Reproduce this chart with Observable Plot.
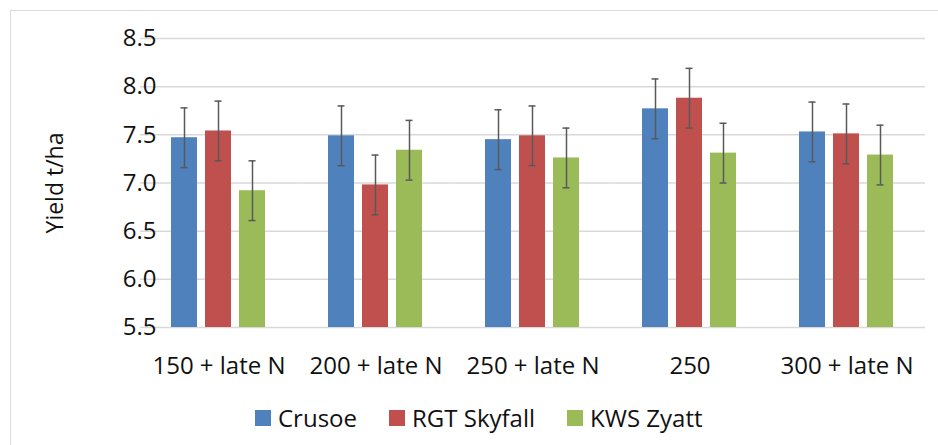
<!DOCTYPE html>
<html>
<head>
<meta charset="utf-8">
<script src="https://cdn.jsdelivr.net/npm/d3@7"></script>
<script src="https://cdn.jsdelivr.net/npm/@observablehq/plot@0.6"></script>
<style>
  html, body { margin: 0; padding: 0; background: #fff; }
  #wrap { position: relative; width: 938px; height: 445px; overflow: hidden; font-family: "Open Sans", sans-serif; }
  #border { position: absolute; left: 10px; top: 10px; width: 960px; height: 460px; border: 1.5px solid #d9d9d9; box-sizing: border-box; }
  #chart { position: absolute; left: 0; top: 0; }
  #legend { position: absolute; left: 255px; top: 401px; display: flex; align-items: center; font-size: 24px; color: #111; white-space: nowrap; }
  .item { display: flex; align-items: center; margin-right: 32px; }
  .sw { width: 16px; height: 16px; margin-right: 7px; }
</style>
</head>
<body>
<div id="wrap">
  <div id="border"></div>
  <div id="chart"></div>
  <div id="legend"></div>
</div>
<script>
const groups = ["150 + late N", "200 + late N", "250 + late N", "250", "300 + late N"];
const varieties = ["Crusoe", "RGT Skyfall", "KWS Zyatt"];
const crusoe  = [7.47, 7.49, 7.45, 7.77, 7.53];
const skyfall = [7.54, 6.98, 7.49, 7.88, 7.51];
const zyatt   = [6.92, 7.34, 7.26, 7.31, 7.29];
const errCrusoe  = [0.31, 0.31, 0.31, 0.31, 0.31];
const errSkyfall = [0.31, 0.31, 0.31, 0.31, 0.31];
const errZyatt   = [0.31, 0.31, 0.31, 0.31, 0.31];
const yTicks = [5.5, 6.0, 6.5, 7.0, 7.5, 8.0, 8.5];
const colors = ["#4f81bd", "#c0504d", "#9bbb59"];

const series = [crusoe, skyfall, zyatt];
const errs = [errCrusoe, errSkyfall, errZyatt];
const data = groups.flatMap((g, i) => varieties.map((v, j) => ({
  group: g, variety: v, yield: series[j][i], err: errs[j][i]
})));

const W = 938, ML = 140, MR = 13;
const padInner = 0.28, padOuter = 0.14;
const step = (W - ML - MR) / (groups.length - padInner + 2 * padOuter);
const outer = padOuter * step; // gap between plot edge and first facet
const ext = -outer;             // extend gridlines across the gaps between facets

const plot = Plot.plot({
  width: W,
  height: 392,
  marginLeft: ML,
  marginRight: MR,
  marginTop: 38,
  marginBottom: 65,
  style: { fontFamily: "Open Sans, sans-serif", fontSize: "24px", color: "#111", background: "transparent" },
  fx: { domain: groups, paddingInner: padInner, paddingOuter: padOuter, label: null },
  x: { domain: varieties, padding: 0.23, axis: null },
  y: { domain: [5.5, 8.5], label: null },
  color: { domain: varieties, range: colors },
  marks: [
    Plot.ruleY(yTicks, { y: d => d, stroke: "#d9d9d9", strokeWidth: 1.5, insetLeft: ext, insetRight: ext }),
    Plot.axisY({ ticks: yTicks, tickFormat: d => d.toFixed(1), tickSize: 0, tickPadding: 28 - outer, label: null, fontSize: 24, fill: "#111" }),
    Plot.axisFx({ anchor: "bottom", tickSize: 0, tickPadding: 29, label: null, fontSize: 24, fill: "#111" }),
    Plot.barY(data, { fx: "group", x: "variety", y1: 5.5, y2: "yield", fill: "variety" }),
    Plot.ruleX(data, { fx: "group", x: "variety", y1: d => d.yield - d.err, y2: d => d.yield + d.err, stroke: "#595959", strokeWidth: 1.5 }),
    Plot.tickY(data, { fx: "group", x: "variety", y: d => d.yield + d.err, stroke: "#595959", strokeWidth: 1.5, insetLeft: 9.5, insetRight: 9.5 }),
    Plot.tickY(data, { fx: "group", x: "variety", y: d => d.yield - d.err, stroke: "#595959", strokeWidth: 1.5, insetLeft: 9.5, insetRight: 9.5 }),
    Plot.text(["Yield t/ha"], { frameAnchor: "left", rotate: -90, textAnchor: "middle", lineAnchor: "middle", dx: -85 - outer, fontSize: 23, fill: "#111", facet: "super" })
  ]
});
document.getElementById("chart").appendChild(plot);

const legend = document.getElementById("legend");
varieties.forEach((v, j) => {
  const it = document.createElement("div");
  it.className = "item";
  const sw = document.createElement("div");
  sw.className = "sw";
  sw.style.background = colors[j];
  const t = document.createElement("span");
  t.textContent = v;
  it.appendChild(sw); it.appendChild(t);
  legend.appendChild(it);
});
</script>
</body>
</html>
